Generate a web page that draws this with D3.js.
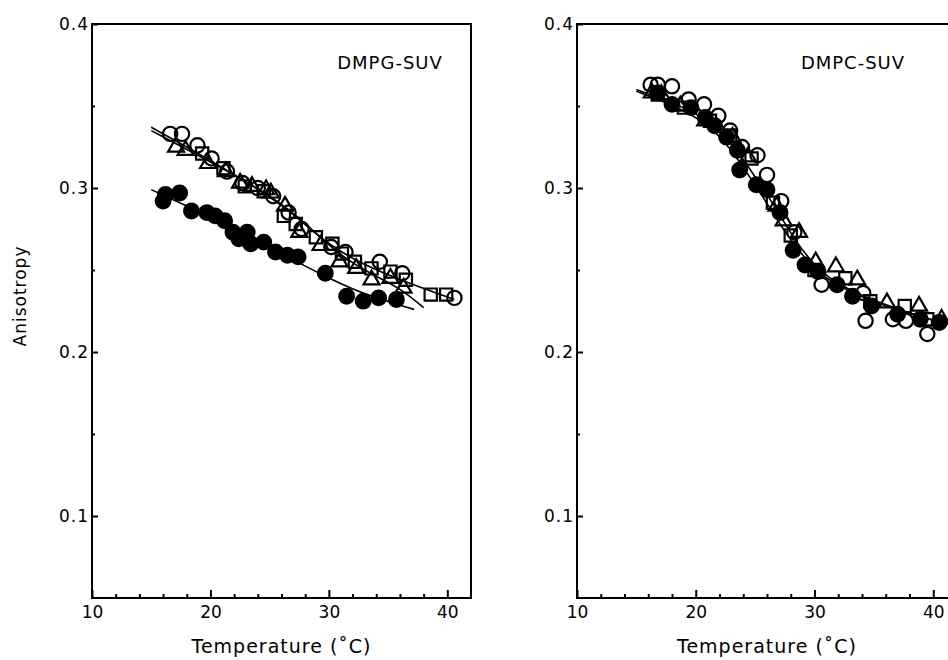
<!DOCTYPE html>
<html>
<head>
	<meta charset="utf-8">
	<style>
		body { margin: 0; background: #fff; }
		text { font-family: 'DejaVu Sans', sans-serif; fill: #000; }
	</style>
</head>
<body>
	<script src="https://cdn.jsdelivr.net/npm/d3@7"></script>

	<script>
		// DMPG-SUV (left panel) — [temperature, anisotropy]
		const pgCircle = [[16.6,0.333],[17.6,0.333],[18.9,0.326],[20.1,0.318],[21.4,0.310],[22.7,0.303],[24.0,0.300],
			[25.3,0.295],[26.6,0.285],[27.7,0.275],[30.2,0.264],[31.4,0.261],[34.3,0.255],[36.2,0.248],[40.6,0.233]];
		const pgTriangle = [[17.1,0.325],[17.9,0.323],[19.8,0.315],[21.3,0.310],[22.5,0.303],[23.5,0.301],[24.7,0.299],
			[25.1,0.297],[26.3,0.289],[27.5,0.273],[29.3,0.265],[30.9,0.255],[32.3,0.251],[33.6,0.244],[35.2,0.245],[36.3,0.239]];
		const pgSquare = [[19.3,0.321],[21.1,0.312],[22.9,0.301],[24.5,0.298],[26.2,0.283],[27.2,0.278],[28.9,0.270],
			[30.3,0.266],[31.1,0.260],[32.2,0.255],[33.6,0.251],[35.2,0.249],[36.5,0.244],[38.6,0.235],[39.9,0.235]];
		const pgFilled = [[16.0,0.292],[16.2,0.296],[17.4,0.297],[18.4,0.286],[19.7,0.285],[20.4,0.283],[21.2,0.280],
			[21.9,0.273],[22.4,0.269],[23.1,0.273],[23.4,0.266],[24.5,0.267],[25.5,0.261],[26.5,0.259],[27.4,0.258],
			[29.7,0.248],[31.5,0.234],[32.9,0.231],[34.2,0.233],[35.7,0.232]];
		// fitted curves
		const pgFitOpen = [[15,0.337],[20,0.317],[25,0.295],[27,0.284],[30,0.265],[33,0.253],[36,0.244],[40.6,0.232]];
		const pgFitTri = [[15,0.335],[20,0.316],[25,0.296],[28,0.279],[31,0.258],[34,0.246],[36,0.239],[38,0.227]];
		const pgFitFilled = [[15,0.299],[18,0.289],[21,0.279],[24,0.268],[27,0.256],[30,0.245],[33,0.235],[37.2,0.226]];

		// DMPC-SUV (right panel)
		const pcCircle = [[16.2,0.363],[16.8,0.363],[18.0,0.362],[19.4,0.354],[20.7,0.351],[21.9,0.344],[22.9,0.335],
			[23.9,0.325],[25.2,0.320],[26.0,0.308],[27.2,0.292],[28.3,0.273],[30.6,0.241],[34.1,0.236],[34.3,0.219],
			[36.6,0.220],[37.7,0.219],[39.5,0.211]];
		const pcTriangle = [[16.3,0.358],[17.1,0.357],[18.7,0.350],[20.8,0.341],[23.1,0.331],[24.4,0.319],[26.8,0.289],
			[27.4,0.280],[28.7,0.273],[30.1,0.255],[31.8,0.252],[33.6,0.244],[36.1,0.230],[38.8,0.228],[40.7,0.220]];
		const pcSquare = [[16.8,0.357],[19.0,0.349],[21.2,0.341],[22.9,0.332],[24.7,0.318],[26.5,0.291],[28.0,0.271],
			[30.0,0.250],[32.6,0.245],[34.7,0.231],[37.6,0.228],[39.5,0.220]];
		const pcFilled = [[16.8,0.358],[18.0,0.351],[19.6,0.349],[20.8,0.343],[21.6,0.338],[22.6,0.331],[23.5,0.323],
			[23.7,0.311],[25.1,0.302],[26.0,0.299],[27.1,0.285],[28.2,0.262],[29.2,0.253],[30.3,0.249],[31.9,0.241],
			[33.2,0.234],[34.8,0.228],[37.0,0.223],[38.9,0.220],[40.5,0.218]];
		const pcFitOpen = [[15,0.360],[20,0.347],[22.5,0.333],[25,0.307],[27,0.285],[28,0.272],[30,0.252],[32,0.241],
			[35,0.231],[40,0.219],[42,0.216]];
		const pcFitFilled = [[15,0.359],[20,0.345],[22.5,0.329],[25,0.302],[27,0.279],[28,0.268],[30,0.250],[32,0.240],
			[35,0.230],[40,0.219],[42,0.216]];

		const xMajor = [10, 20, 30, 40];
		const xMinor = [12, 14, 16, 18, 22, 24, 26, 28, 32, 34, 36, 38];
		const yMajor = [0.1, 0.2, 0.3, 0.4];
		const yMinor = [0.15, 0.25, 0.35];

		const W = 948, H = 660;
		const plotTop = 24, plotBottom = 598;

		const svg = d3.select('body').append('svg')
			.attr('width', W).attr('height', H);

		const y = d3.scaleLinear().domain([0.05, 0.4]).range([plotBottom, plotTop]);

		function drawPanel(left, right, title, titleX, series, fits) {
			const x = d3.scaleLinear().domain([10, 42]).range([left, right]);
			const g = svg.append('g');

			const line = d3.line().x(d => x(d[0])).y(d => y(d[1])).curve(d3.curveBasis);
			fits.forEach(f => {
				g.append('path').attr('d', line(f))
					.attr('fill', 'none').attr('stroke', '#000').attr('stroke-width', 1.6);
			});

			series.forEach(s => {
				const sym = d3.symbol().type(s.type).size(s.size);
				g.selectAll(null).data(s.data).enter().append('path')
					.attr('transform', d => `translate(${x(d[0])},${y(d[1])})`)
					.attr('d', sym)
					.attr('fill', s.filled ? '#000' : 'none')
					.attr('stroke', '#000').attr('stroke-width', 2.2);
			});

			// frame
			g.append('rect').attr('x', left).attr('y', plotTop)
				.attr('width', right - left).attr('height', plotBottom - plotTop)
				.attr('fill', 'none').attr('stroke', '#000').attr('stroke-width', 2);

			const xa = g.append('g').attr('transform', `translate(0,${plotBottom})`)
				.call(d3.axisBottom(x).tickValues(xMajor).tickSizeInner(-8).tickSizeOuter(0).tickPadding(8));
			g.append('g').attr('transform', `translate(0,${plotBottom})`)
				.call(d3.axisBottom(x).tickValues(xMinor).tickSizeInner(-4).tickSizeOuter(0).tickFormat(''));
			const ya = g.append('g').attr('transform', `translate(${left},0)`)
				.call(d3.axisLeft(y).tickValues(yMajor).tickSizeInner(-6).tickSizeOuter(0).tickPadding(3).tickFormat(d3.format('.1f')));
			g.append('g').attr('transform', `translate(${left},0)`)
				.call(d3.axisLeft(y).tickValues(yMinor).tickSizeInner(-3).tickSizeOuter(0).tickFormat(''));

			g.selectAll('.domain').remove();
			g.selectAll('.tick line').attr('stroke', '#000').attr('stroke-width', 2);
			xa.selectAll('text').style('font-size', '17px').attr('font-family', null);
			ya.selectAll('text').style('font-size', '17px').style('letter-spacing', '1px').attr('font-family', null);

			g.append('text').attr('x', titleX).attr('y', 69)
				.attr('text-anchor', 'middle').style('font-size', '18px').style('letter-spacing', '1px')
				.text(title);

			g.append('text').attr('x', (left + right) / 2).attr('y', 653)
				.attr('text-anchor', 'middle').style('font-size', '19px').style('letter-spacing', '1px')
				.text('Temperature (˚C)');
		}

		const sCircle = d3.symbolCircle, sTri = d3.symbolTriangle, sSq = d3.symbolSquare;

		drawPanel(92, 471, 'DMPG-SUV', 390, [
			{ data: pgSquare, type: sSq, size: 150, filled: false },
			{ data: pgTriangle, type: sTri, size: 110, filled: false },
			{ data: pgCircle, type: sCircle, size: 160, filled: false },
			{ data: pgFilled, type: sCircle, size: 170, filled: true }
		], [pgFitOpen, pgFitTri, pgFitFilled]);

		drawPanel(577, 957, 'DMPC-SUV', 853, [
			{ data: pcSquare, type: sSq, size: 150, filled: false },
			{ data: pcTriangle, type: sTri, size: 110, filled: false },
			{ data: pcCircle, type: sCircle, size: 160, filled: false },
			{ data: pcFilled, type: sCircle, size: 170, filled: true }
		], [pcFitOpen, pcFitFilled]);

		svg.append('text')
			.attr('transform', 'translate(26,296) rotate(-90)')
			.attr('text-anchor', 'middle').style('font-size', '17px').style('letter-spacing', '1px')
			.text('Anisotropy');
	</script>
</body>
</html>
